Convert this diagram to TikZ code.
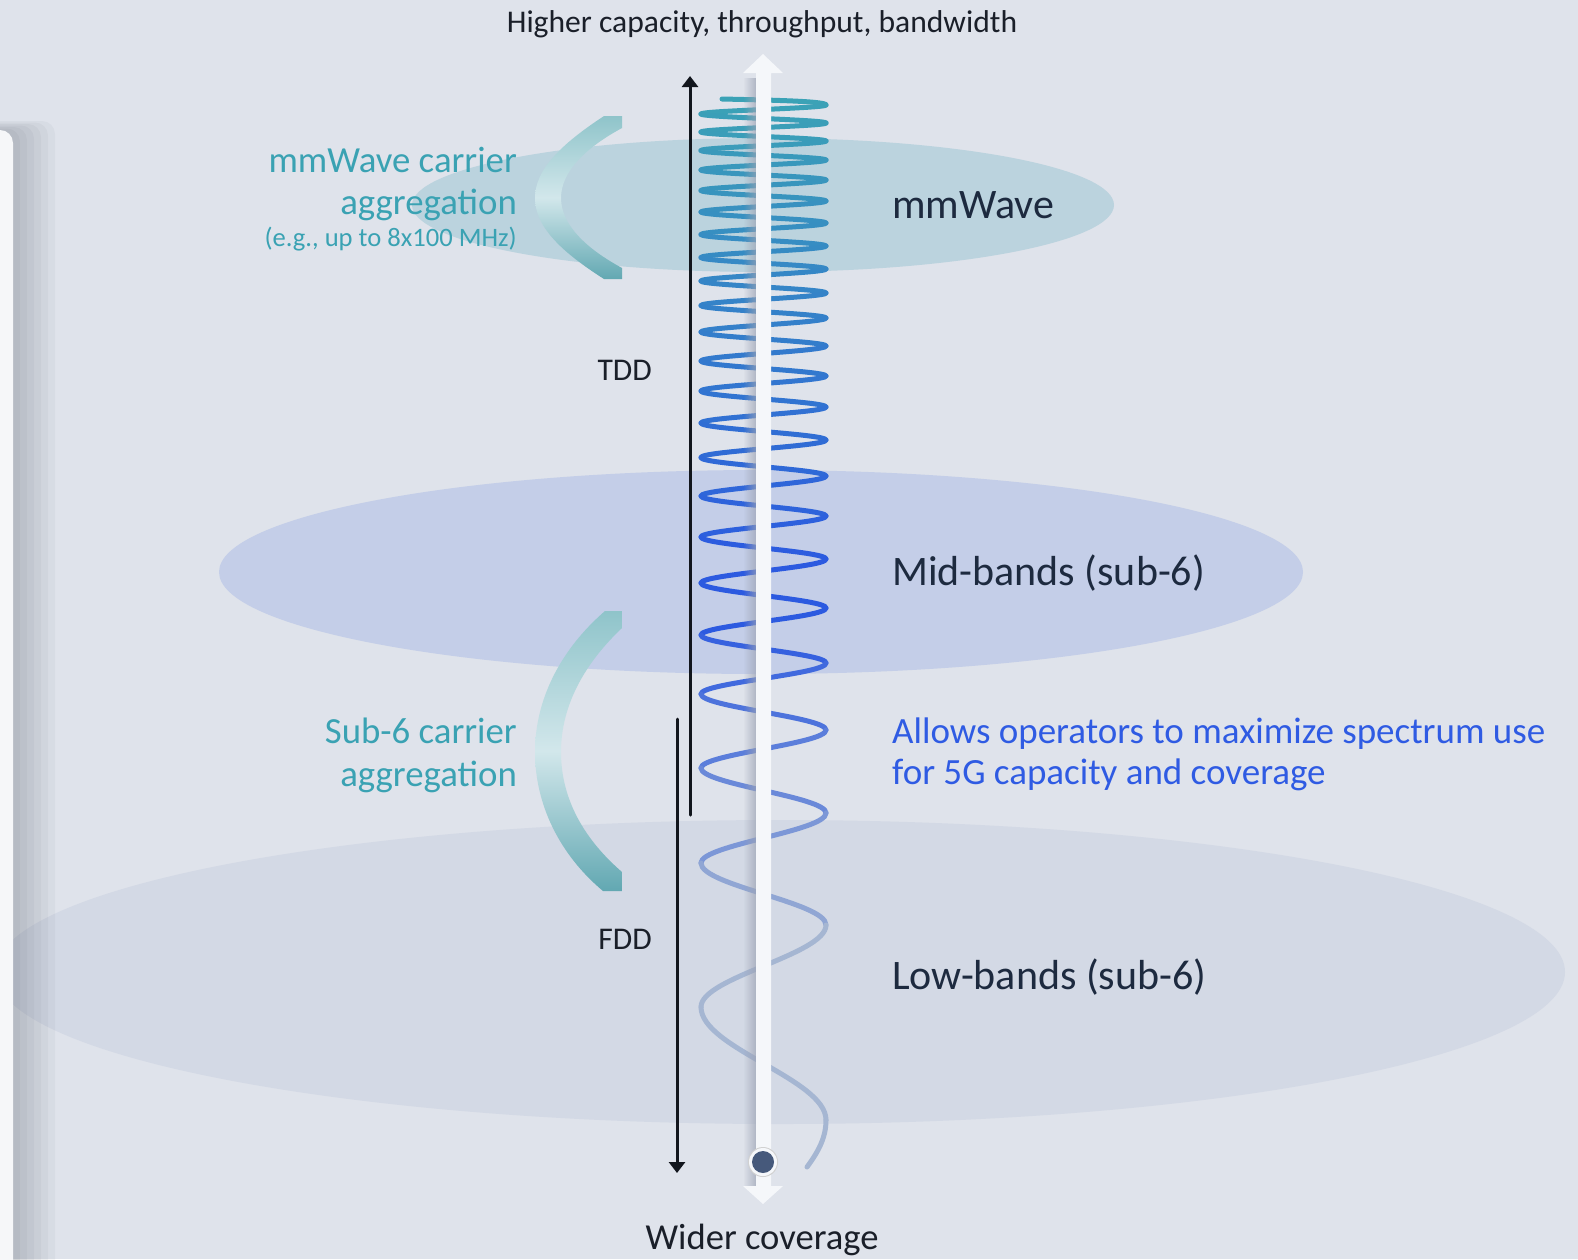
\documentclass[tikz,border=0pt]{standalone}
\usepackage{fontspec}
\setmainfont{Carlito}
\usetikzlibrary{arrows.meta,fadings}
\definecolor{bg}{HTML}{DFE3EB}
\definecolor{ellA}{HTML}{BBD3DE}
\definecolor{ellB}{HTML}{C4CEE8}
\definecolor{ellC}{HTML}{D3D9E5}
\definecolor{panelc}{HTML}{F6F7F9}
\definecolor{shadowc}{HTML}{3C4250}
\definecolor{arrw}{HTML}{F5F7FA}
\definecolor{shaftsh}{HTML}{9CA3B4}
\definecolor{blk}{HTML}{12161D}
\definecolor{darktxt}{HTML}{1D2A3F}
\definecolor{toptxt}{HTML}{1A1F29}
\definecolor{tealtxt}{HTML}{3AA2B3}
\definecolor{bluetxt}{HTML}{2F5BE3}
\definecolor{wteal}{RGB}{59,162,182}
\definecolor{wblue}{RGB}{44,90,224}
\definecolor{wgrey}{RGB}{165,182,210}
\definecolor{brtop}{RGB}{143,196,202}
\definecolor{brmid}{RGB}{210,231,235}
\definecolor{brbot}{RGB}{98,168,178}
\definecolor{dotc}{HTML}{46597B}
\tikzfading[name=shfade, left color=transparent!100, right color=transparent!30]
\tikzset{
  wave/.style={line width=5pt, line cap=round},
  blkarrow/.style={blk, line width=3pt, line cap=round, -{Triangle[length=11pt,width=16pt]}},
  bracketshade/.style={top color=brtop, bottom color=brbot, middle color=brmid},
  smalllbl/.style={font=\fontsize{31.6}{38}\selectfont, inner sep=0pt},
  biglbl/.style={font=\fontsize{42}{50}\selectfont, text=darktxt, inner sep=0pt, anchor=base west},
  teallbl/.style={font=\fontsize{36.8}{44}\selectfont, text=tealtxt, inner sep=0pt, anchor=base east},
  bluelbl/.style={font=\fontsize{37}{44}\selectfont, text=bluetxt, inner sep=0pt, anchor=base west}
}
\begin{document}
\begin{tikzpicture}[x=1pt,y=-1pt]
\useasboundingbox (0,0) rectangle (1578,1259);
\fill[bg] (0,0) rectangle (1578,1259);
% band ellipses
\fill[ellC] (780,972) ellipse [x radius=785pt, y radius=152pt];
\fill[ellB] (761,572) ellipse [x radius=542pt, y radius=102pt];
\fill[ellA] (763,205) ellipse [x radius=351pt, y radius=67pt];
% left panel with shadow
\foreach \k in {1,...,6}
  \fill[shadowc, opacity=0.045, rounded corners=13pt] (-40,{130-1.5*\k}) rectangle ({13+7*\k},1300);
\fill[panelc, rounded corners=13pt] (-40,130) rectangle (13,1300);
% brackets
\path[bracketshade] (622,116) -- (604,116) .. controls (560,145) and (535,170) .. (535,198)
  .. controls (535,226) and (560,251) .. (604,279) -- (622,279) -- (622,268)
  .. controls (585,248) and (561,224) .. (561,198) .. controls (561,172) and (585,148) .. (622,128) -- cycle;
\path[bracketshade] (622,611) -- (605,611) .. controls (560,650) and (535,700) .. (535,752)
  .. controls (535,805) and (560,855) .. (603,891) -- (622,891) -- (622,872)
  .. controls (585,840) and (561,800) .. (561,752) .. controls (561,705) and (585,663) .. (622,628) -- cycle;
% TDD / FDD arrows
\coordinate (tddA) at (690,815);
\coordinate (tddB) at (690,76);
\coordinate (fddA) at (677,719);
\coordinate (fddB) at (677,1173);
\draw[blkarrow] (tddA) -- (tddB);
\draw[blkarrow] (fddA) -- (fddB);
% wave
\draw[wave,wteal] (722,99) .. controls (765,100) and (826,101) .. (826,105);
\foreach \ya/\yb [count=\i] in {105/114,114/123,123/132,132/141,141/150.5,150.5/160,160/170,170/180,180/190.5,190.5/201,201/212,212/223,223/234.5,234.5/246,246/257.5,257.5/269,269/281,281/293,293/305.5,305.5/318,318/332,332/346,346/361,361/376,376/391,391/407,407/423,423/440,440/457.5,457.5/476,476/496,496/516,516/537,537/559,559/583,583/608,608/635,635/663,663/694,694/730,730/768,768/813,813/863,863/925,925/1007,1007/1120} {
  \pgfmathsetmacro\wxa{mod(\i,2)==1 ? 826 : 701}
  \pgfmathsetmacro\wxb{mod(\i,2)==1 ? 701 : 826}
  \pgfmathsetmacro\wh{0.3634*(\yb-\ya)}
  \pgfmathsetmacro\wm{(\ya+\yb)/2}
  \pgfmathtruncatemacro\pA{100*min(max((\wm-100)/460,0),1)}
  \pgfmathtruncatemacro\pC{100*min(max((\wm-620)/330,0),1)}
  \colorlet{tmpc}{wblue!\pA!wteal}
  \colorlet{segc}{wgrey!\pC!tmpc}
  \draw[wave,segc] (\wxa,\ya) .. controls (\wxa,\ya+\wh) and (\wxb,\yb-\wh) .. (\wxb,\yb);
}
\draw[wave,wgrey] (826,1120) .. controls (826,1138) and (818,1152) .. (807,1167);
% white double arrow
\fill[shaftsh, path fading=shfade] (743,78) rectangle (756,1186);
\fill[arrw] (756,73) -- (743,73) -- (763,54) -- (783,73) -- (771,73) -- (771,1186)
  -- (783,1186) -- (763,1204) -- (743,1186) -- (756,1186) -- cycle;
% dot
\node[circle, minimum size=30pt, inner sep=0pt, fill=black!18] (dotring) at (763,1162) {};
\node[circle, minimum size=28pt, inner sep=0pt, fill=arrw] (dotwhite) at (763,1162) {};
\node[circle, minimum size=22pt, inner sep=0pt, fill=dotc] (dot) at (763,1162) {};
% texts
\node[smalllbl, text=toptxt, anchor=base] (toplbl) at (762,32) {Higher capacity, throughput, bandwidth};
\node[font=\fontsize{36.6}{44}\selectfont, text=toptxt, inner sep=0pt, anchor=base] (botlbl) at (762,1249) {Wider coverage};
\node[biglbl] (mmw) at (892,218) {mmWave};
\node[biglbl] (midb) at (892,585) {Mid-bands (sub-6)};
\node[biglbl] (lowb) at (892,989) {Low-bands (sub-6)};
\node[bluelbl] (allow1) at (892,743) {Allows operators to maximize spectrum use};
\node[bluelbl] (allow2) at (892,784.5) {for 5G capacity and coverage};
\node[teallbl] (mmca1) at (517,172) {mmWave carrier};
\node[teallbl] (mmca2) at (517,214) {aggregation};
\node[font=\fontsize{26.6}{32}\selectfont, text=tealtxt, inner sep=0pt, anchor=base east] (mmca3) at (517,246.5) {(e.g., up to 8x100 MHz)};
\node[teallbl] (subca1) at (517,743) {Sub-6 carrier};
\node[teallbl] (subca2) at (517,786) {aggregation};
\node[smalllbl, text=toptxt, anchor=base east] (tdd) at (652,380.5) {TDD};
\node[smalllbl, text=toptxt, anchor=base east] (fdd) at (652,949) {FDD};
\end{tikzpicture}
\end{document}
